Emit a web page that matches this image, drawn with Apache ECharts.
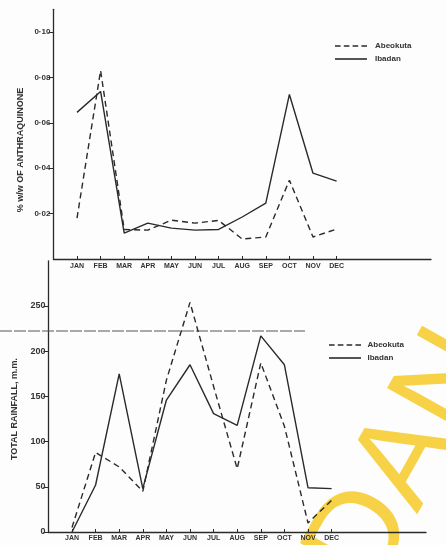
<!DOCTYPE html>
<html>
<head>
<meta charset="utf-8">
<script src="https://cdn.jsdelivr.net/npm/echarts@6/dist/echarts.min.js"></script>
<style>
html,body{margin:0;padding:0;background:#fdfdfd;}
#c{width:446px;height:545px;}
</style>
</head>
<body>
<div id="c"></div>
<script>
// ---- data ----
const months = ['JAN','FEB','MAR','APR','MAY','JUN','JUL','AUG','SEP','OCT','NOV','DEC'];
// % w/w of anthraquinone
const abeokutaAQ = [0.018, 0.083, 0.013, 0.0127, 0.0171, 0.0158, 0.017, 0.0088, 0.0097, 0.0347, 0.0097, 0.0132];
const ibadanAQ   = [0.0646, 0.0738, 0.0114, 0.0158, 0.0136, 0.0127, 0.013, 0.0185, 0.0246, 0.0725, 0.0378, 0.0343];
// total rainfall, mm
const abeokutaRain = [5, 88, 72, 45, 168, 254, 161, 70, 187, 117, 10, 35];
const ibadanRain   = [0, 52, 175, 48, 146, 185, 131, 118, 217, 185, 49, 48];
// tick labels
const aqTicks = [0.02, 0.04, 0.06, 0.08, 0.10];
const rainTicks = [0, 50, 100, 150, 200, 250];

const cats = [''].concat(months, [' ', '  ', '   ', '    ']);
const pairs = (vals) => months.map((m, i) => [m, vals[i]]);

const ink = '#2a2a2a';
const FONT = 'Liberation Sans';
const DASH_ICON = 'path://M0,0h7v2h-7z M11,0h7v2h-7z M22,0h7v2h-7z M33,0h7v2h-7z';
const SOLID_ICON = 'path://M0,0h40v2h-40z';

function xAxisCfg(gi, margin) {
  return {
    type: 'category', gridIndex: gi, data: cats, boundaryGap: false,
    axisLine: { lineStyle: { color: ink, width: 1.3 } },
    axisTick: { show: true, inside: true, length: 3, alignWithLabel: true,
      interval: (i, v) => v.trim() !== '', lineStyle: { color: ink } },
    axisLabel: { interval: 0, margin: margin, fontSize: 7, fontWeight: 'bold',
      color: '#333', fontFamily: FONT },
    splitLine: { show: false }
  };
}

function legendCfg(left, top, w) {
  return {
    orient: 'vertical', left: left, top: top, itemWidth: w, itemHeight: 1.6, itemGap: 5,
    data: [{ name: 'Abeokuta', icon: DASH_ICON }, { name: 'Ibadan', icon: SOLID_ICON }],
    itemStyle: { color: ink },
    textStyle: { fontSize: 8, fontWeight: 'bold', color: '#333', fontFamily: FONT, padding: [0, 0, 0, -2] }
  };
}

const dashed = { color: ink, width: 1.4, type: [6, 4] };
const solid = { color: ink, width: 1.4, type: 'solid' };

const option = {
  backgroundColor: '#fdfdfd',
  animation: false,
  grid: [
    { left: 53.4, top: 9.3, width: 377.6, height: 249.7 },
    { left: 48.4, top: 260.8, width: 377.6, height: 271.2 }
  ],
  xAxis: [ xAxisCfg(0, 4), xAxisCfg(1, 3) ],
  yAxis: [
    { type: 'value', gridIndex: 0, min: 0, max: 0.11,
      axisLine: { show: true, lineStyle: { color: ink, width: 1.3 } },
      axisTick: { show: true, length: 5, customValues: aqTicks, lineStyle: { color: ink } },
      axisLabel: { customValues: aqTicks, margin: 3, fontSize: 8, fontWeight: 'bold', color: '#333',
        fontFamily: FONT, formatter: v => '0·' + v.toFixed(2).slice(2) },
      splitLine: { show: false } },
    { type: 'value', gridIndex: 1, min: 0, max: 300,
      axisLine: { show: true, lineStyle: { color: ink, width: 1.3 } },
      axisTick: { show: true, length: 5, customValues: rainTicks, lineStyle: { color: ink } },
      axisLabel: { customValues: rainTicks, margin: 3, fontSize: 9, fontWeight: 'bold', color: '#333',
        fontFamily: FONT },
      splitLine: { show: false } }
  ],
  legend: [ legendCfg(330, 37, 42), legendCfg(324, 336, 39) ],
  series: [
    { name: 'Abeokuta', type: 'line', xAxisIndex: 0, yAxisIndex: 0, data: pairs(abeokutaAQ),
      symbol: 'none', lineStyle: dashed, itemStyle: { color: ink } },
    { name: 'Ibadan', type: 'line', xAxisIndex: 0, yAxisIndex: 0, data: pairs(ibadanAQ),
      symbol: 'none', lineStyle: solid, itemStyle: { color: ink } },
    { name: 'Abeokuta', type: 'line', xAxisIndex: 1, yAxisIndex: 1, data: pairs(abeokutaRain),
      symbol: 'none', lineStyle: dashed, itemStyle: { color: ink } },
    { name: 'Ibadan', type: 'line', xAxisIndex: 1, yAxisIndex: 1, data: pairs(ibadanRain),
      symbol: 'none', lineStyle: solid, itemStyle: { color: ink } }
  ],
  graphic: [
    { type: 'text', x: 21, y: 150, rotation: Math.PI / 2, z: 10,
      style: { text: '% w/w OF ANTHRAQUINONE', fontSize: 9, fontWeight: 'bold', fill: '#333',
        fontFamily: FONT, align: 'center', verticalAlign: 'middle' } },
    { type: 'text', x: 15, y: 409, rotation: Math.PI / 2, z: 10,
      style: { text: 'TOTAL RAINFALL, m.m.', fontSize: 9, fontWeight: 'bold', fill: '#333',
        fontFamily: FONT, align: 'center', verticalAlign: 'middle' } },
    { type: 'line', shape: { x1: 0, y1: 331, x2: 305, y2: 331 }, z: 1,
      style: { stroke: '#555', lineWidth: 1, lineDash: [12, 2] } },
    { type: 'text', x: 341, y: 578, rotation: 1.06, z: 0,
      style: { text: 'DAN', fontSize: 128, fill: '#f7cf3c', opacity: 0.95,
        fontFamily: 'Liberation Sans', align: 'left', verticalAlign: 'middle' } }
  ]
};

const chart = echarts.init(document.getElementById('c'), null, { renderer: 'canvas' });
chart.setOption(option);
</script>
</body>
</html>
